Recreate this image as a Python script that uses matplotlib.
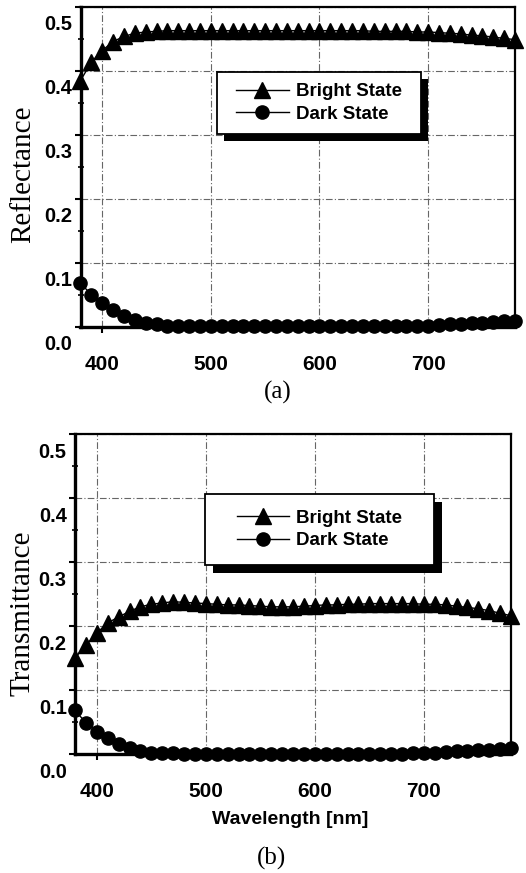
import matplotlib
matplotlib.use("Agg")
import matplotlib.pyplot as plt
from matplotlib.patches import Rectangle
from matplotlib.transforms import ScaledTranslation

# ========== 1. Data ==========
wavelength = list(range(380, 790, 10))

refl_bright = [0.385, 0.414, 0.432, 0.446, 0.454, 0.459, 0.461, 0.462, 0.463, 0.463,
               0.463, 0.463, 0.463, 0.463, 0.463, 0.463, 0.463, 0.463, 0.463, 0.463,
               0.463, 0.463, 0.463, 0.463, 0.463, 0.463, 0.463, 0.462, 0.462, 0.462,
               0.462, 0.461, 0.461, 0.460, 0.459, 0.458, 0.456, 0.455, 0.453, 0.451,
               0.449]
refl_dark = [0.069, 0.050, 0.037, 0.027, 0.017, 0.011, 0.007, 0.004, 0.002, 0.001,
             0.001, 0.001, 0.001, 0.001, 0.001, 0.001, 0.001, 0.001, 0.001, 0.001,
             0.001, 0.001, 0.001, 0.001, 0.001, 0.001, 0.001, 0.001, 0.001, 0.001,
             0.001, 0.002, 0.002, 0.003, 0.004, 0.005, 0.006, 0.007, 0.008, 0.009,
             0.010]

trans_bright = [0.150, 0.170, 0.189, 0.205, 0.214, 0.223, 0.230, 0.234, 0.236, 0.238,
                0.237, 0.236, 0.235, 0.234, 0.233, 0.233, 0.232, 0.231, 0.230, 0.230,
                0.230, 0.231, 0.232, 0.233, 0.233, 0.234, 0.234, 0.235, 0.235, 0.235,
                0.235, 0.235, 0.234, 0.234, 0.233, 0.231, 0.229, 0.227, 0.224, 0.220,
                0.216]
trans_dark = [0.068, 0.049, 0.035, 0.025, 0.015, 0.009, 0.005, 0.002, 0.001, 0.001,
              0.000, 0.000, 0.000, 0.000, 0.000, 0.000, 0.000, 0.000, 0.000, 0.000,
              0.000, 0.000, 0.000, 0.000, 0.000, 0.000, 0.000, 0.000, 0.000, 0.000,
              0.000, 0.001, 0.001, 0.002, 0.003, 0.004, 0.005, 0.006, 0.007, 0.008,
              0.009]

x_ticks = [400, 500, 600, 700]
y_ticks = [0.0, 0.1, 0.2, 0.3, 0.4, 0.5]

SANS = "Liberation Sans"
SERIF = "Liberation Serif"

# ========== 2. Figure ==========
W, H = 526, 873
fig = plt.figure(figsize=(W / 100, H / 100), dpi=100)


def px_axes(left, right, top, bottom):
    return fig.add_axes([left / W, 1 - bottom / H, (right - left) / W, (bottom - top) / H])


def style_axes(ax):
    ax.set_axisbelow(True)
    ax.set_xlim(380, 780)
    ax.set_ylim(0, 0.5)
    ax.set_xticks(x_ticks)
    ax.set_yticks(y_ticks)
    ax.set_yticks([0.05, 0.15, 0.25, 0.35, 0.45], minor=True)
    ax.set_xticklabels([str(v) for v in x_ticks], fontfamily=SANS, fontsize=15, fontweight="bold")
    ax.set_yticklabels(["%.1f" % v for v in y_ticks], fontfamily=SANS, fontsize=14.5,
                       fontweight="bold")
    ax.tick_params(axis="x", direction="out", length=4.5, width=1.5, pad=16)
    ax.tick_params(axis="y", which="major", direction="out", length=4, width=1.5, pad=2)
    ax.tick_params(axis="y", which="minor", direction="inout", length=4, width=1.2)
    ax.grid(True, color="0.4", linestyle=(0, (6, 2, 1, 2)), linewidth=0.8)
    ax.spines["left"].set_linewidth(2.4)
    ax.spines["bottom"].set_linewidth(2.4)
    ax.spines["top"].set_linewidth(1.6)
    ax.spines["right"].set_linewidth(1.6)
    # tick labels in the scan sit a bit below their ticks
    off = ScaledTranslation(0, -16 / 100, fig.dpi_scale_trans)
    for lab in ax.get_yticklabels():
        lab.set_transform(lab.get_transform() + off)


def draw_series(ax, bright, dark):
    ax.plot(wavelength, bright, color="black", lw=1.0, marker="^", ms=11.5,
            clip_on=False, zorder=5, label="Bright State")
    ax.plot(wavelength, dark, color="black", lw=1.0, marker="o", ms=9.5,
            clip_on=False, zorder=5, label="Dark State")


def legend_box(ax, left, right, top, bottom, shadow=7):
    # box given in figure pixels, converted to axes fraction
    pos = ax.get_position()

    def to_ax(xp, yp):
        fx, fy = xp / W, 1 - yp / H
        return (fx - pos.x0) / pos.width, (fy - pos.y0) / pos.height

    x0, y0 = to_ax(left, bottom)
    x1, y1 = to_ax(right, top)
    sx, sy = to_ax(left + shadow, bottom + shadow)
    sx1, sy1 = to_ax(right + shadow, top + shadow)
    ax.add_patch(Rectangle((sx, sy), sx1 - sx, sy1 - sy, transform=ax.transAxes,
                           facecolor="black", edgecolor="none", zorder=8, clip_on=False))
    ax.add_patch(Rectangle((x0, y0), x1 - x0, y1 - y0, transform=ax.transAxes,
                           facecolor="white", edgecolor="black", lw=1.3, zorder=9, clip_on=False))
    leg = ax.legend(loc="center", bbox_to_anchor=((x0 + x1) / 2, (y0 + y1) / 2),
                    frameon=False, prop={"family": SANS, "size": 13.5, "weight": "bold"},
                    handlelength=2.8, handletextpad=0.4, labelspacing=0.3,
                    numpoints=1, borderaxespad=0, borderpad=0)
    leg.set_zorder(10)
    return leg


# ----- (a) Reflectance -----
ax1 = px_axes(80.5, 515, 7, 327)
style_axes(ax1)
draw_series(ax1, refl_bright, refl_dark)
ax1.set_ylabel("Reflectance", fontfamily=SERIF, fontsize=21, va="center")
ax1.yaxis.set_label_coords((23 - 80.5) / 434.5, (327 - 174) / 320)
legend_box(ax1, 217, 421, 72, 134)
fig.text(278 / W, 1 - 392 / H, "(a)", family=SERIF, fontsize=18, ha="center", va="center")

# ----- (b) Transmittance -----
ax2 = px_axes(75, 511, 434, 754)
style_axes(ax2)
draw_series(ax2, trans_bright, trans_dark)
ax2.set_ylabel("Transmittance", fontfamily=SERIF, fontsize=21, va="center")
ax2.yaxis.set_label_coords((23 - 75) / 436, (754 - 613) / 320)
ax2.set_xlabel("Wavelength [nm]", fontfamily=SANS, fontsize=14, fontweight="bold", va="center")
ax2.xaxis.set_label_coords((290 - 75) / 436, (754 - 820) / 320)
legend_box(ax2, 205, 434, 494, 565, shadow=8)
fig.text(272 / W, 1 - 858 / H, "(b)", family=SERIF, fontsize=18, ha="center", va="center")

fig.savefig("out.png", dpi=100)
